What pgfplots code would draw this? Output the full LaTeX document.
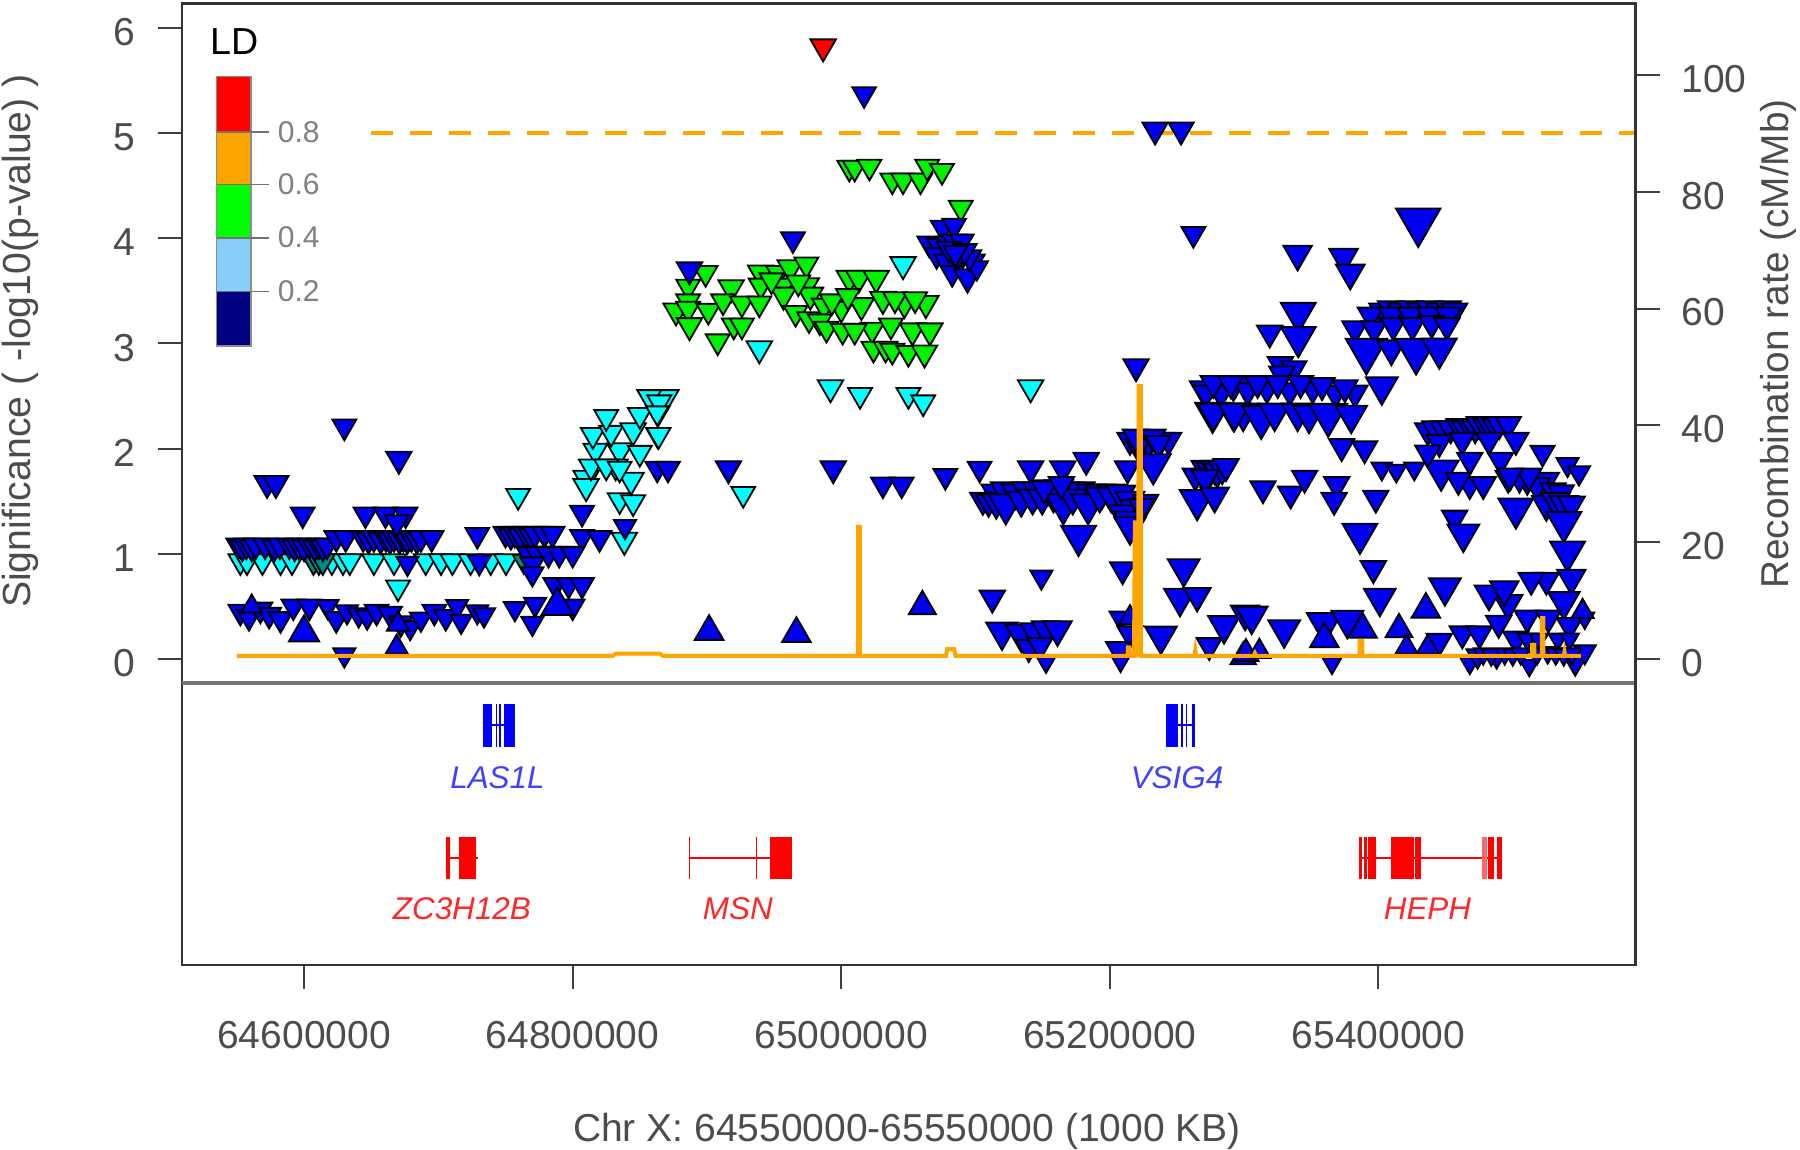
\documentclass[border=0pt]{standalone}
\usepackage{fontspec}
\setmainfont{Liberation Sans}
\usepackage{pgfplots}
\usepackage{pgfplotstable}
\pgfplotsset{compat=1.18}
\definecolor{tcol}{gray}{0.3}
\definecolor{bblue}{HTML}{0000F0}
\definecolor{dblue}{HTML}{000080}
\definecolor{cyn}{HTML}{00FFFF}
\definecolor{teal2}{HTML}{008B8B}
\definecolor{grn}{HTML}{00F000}
\definecolor{org}{HTML}{FFA500}
\definecolor{skyb}{HTML}{87CEFA}
\pgfdeclareplotmark{dtri}{%
  \pgfpathmoveto{\pgfqpoint{0pt}{-\pgfplotmarksize}}%
  \pgfpathlineto{\pgfqpointpolar{30}{\pgfplotmarksize}}%
  \pgfpathlineto{\pgfqpointpolar{150}{\pgfplotmarksize}}%
  \pgfpathclose\pgfusepathqfillstroke}
\pgfplotsset{
  mk/.style 2 args={scatter, only marks, mark=#2,
    visualization depends on={0.92*\thisrow{s}\as\ms},
    scatter/@pre marker code/.code={\scope[mark size=\ms, draw=black, fill=#1, line width=0.9pt]},
    scatter/@post marker code/.code={\endscope},
    forget plot},
  dn/.style={mk={#1}{dtri}},
  up/.style={mk={#1}{triangle*}},
}
\newcommand\exon[5]{\addplot[fill=#1,draw=none,forget plot] coordinates {(#2,#4)(#3,#4)(#3,#5)(#2,#5)} -- cycle;}
\pgfplotstableread[row sep=\\]{x y s\\
64552.6 .93 7.5\\64557.5 .93 7.5\\64569 .93 7.5\\64582.5 .93 7.5\\64591 .93 7.5\\64620.7 .93 7.5\\64629 .93 7.5\\64634 .93 7.5\\
64652 .93 7.5\\64667 .93 7.5\\64690.6 .93 7.5\\64702 .93 7.5\\64710.5 .93 7.5\\64724 .93 7.5\\64739 .93 7.5\\64750.4 .93 7.5\\
64670 .68 7.5\\64759.4 1.55 7.5\\
64810 1.72 8\\64810 1.64 8\\64835 1.51 7.5\\64845 1.49 7.5\\64838.5 1.13 8\\64843.5 1.70 8\\64817 1.98 7.5\\64835 1.98 8\\64850 1.96 7.5\\
64815 2.13 7.5\\64828.6 2.15 7.5\\64845 2.17 8\\64825 2.30 7.5\\64850 2.32 7.5\\64863.5 2.34 7.5\\64863.5 2.13 7.5\\64870 2.49 7.5\\64857 2.49 7.5\\
64832 1.83 7.5\\64813.6 1.83 7.5\\64825 1.83 7.5\\64835 1.81 7.5\\
64939 2.95 8\\64992 2.58 8\\65014 2.51 7.5\\65050 2.51 7.5\\65061 2.44 7.5\\65046 3.75 8\\65141 2.58 8\\64927 1.57 7.5\\64864.5 2.44 7.5\\64863 2.34 7\\64864 2.13 7.5\\
}\tcyan
\pgfplotstableread[row sep=\\]{x y s\\
64607 .93 7.5\\64611 .93 7.5\\64614 .93 7.5\\64763.7 .93 7\\
}\tteal
\pgfplotstableread[row sep=\\]{x y s\\
64899 3.67 7.5\\64886 3.54 7.5\\64918 3.53 8\\64940 3.67 8\\64953 3.67 7.5\\64962 3.72 8\\64974 3.75 7.5\\64940 3.55 7.5\\64957 3.55 7.5\\64974 3.55 8\\
64886 3.40 7.5\\64877 3.31 8\\64886 3.33 7.5\\64901 3.31 7.5\\64912 3.40 7.5\\64926 3.38 7.5\\64939 3.38 7.5\\64957 3.46 8\\64977 3.46 8\\64966 3.29 7.5\\64976 3.23 7.5\\
64987 3.36 7.5\\65000 3.33 7.5\\65015 3.36 8\\64984 3.21 7.5\\64989 3.14 7.5\\64887 3.17 8\\64920 3.17 7.5\\64926 3.17 7.5\\64908 3.02 7.5\\
65006 3.62 8\\65013 3.62 8\\65026 3.62 8\\65031 3.42 8\\65047 3.38 8\\65063 3.38 8\\65023 3.13 7.5\\65001 3.12 7.5\\65010 3.12 7.5\\65037 3.17 7.5\\65053 3.12 8\\65066 3.12 8\\
65024 2.95 7.5\\65033 2.95 7.5\\65038 2.93 7.5\\65050 2.91 7.5\\65062 2.91 8\\
64993 3.40 7.5\\65005 3.45 7.5\\65040 3.42 7.5\\65055 3.42 7.5\\64948 3.60 7.5\\64968 3.58 7.5\\
65006 4.67 7.5\\65010 4.67 7.5\\65021 4.68 7.5\\65038 4.55 7.5\\65046 4.55 7.5\\65059 4.55 7.5\\65064 4.68 7.5\\65075 4.64 7.5\\65089 4.29 7.5\\
}\tgreen
\pgfplotstableread[row sep=\\]{x y s\\
64551 1.08 7.5\\64554 1.06 7.5\\64557 1.08 7.5\\64561 1.06 7.5\\64564 1.08 7.5\\64571 1.08 7.5\\64578 1.06 7.5\\64582 1.08 7.5\\64589 1.08 7.5\\64593 1.06 7.5\\64596 1.08 7.5\\64600 1.06 7.5\\64604 1.08 7.5\\64608 1.06 7.5\\64611 1.08 7.5\\64614 1.06 7.5\\64617 1.08 7.5\\
64624 1.15 7.5\\64631 1.15 7.5\\64644 1.15 7.5\\64648 1.13 7.5\\64652 1.15 7.5\\64657 1.13 7.5\\64661 1.15 7.5\\64664 1.13 7.5\\64667 1.15 7.5\\64671 1.13 7.5\\64674 1.15 7.5\\64677 1.13 7.5\\64680 1.15 7.5\\64684 1.13 7.5\\64687 1.15 7.5\\64695 1.15 7.5\\
64572.5 1.67 8\\64579 1.67 8\\64630 2.21 7.5\\64670.6 1.90 8\\64599 1.375 7.5\\64645.7 1.375 7.5\\64660.6 1.375 7.5\\64675.6 1.375 7.5\\64669 1.30 7.5\\
64729 1.18 7.5\\64750 1.19 7.5\\64754 1.17 7.5\\64757 1.19 7.5\\64761 1.17 7.5\\64765 1.19 7.5\\64769 1.17 7.5\\64772 1.19 7.5\\64779 1.19 7.5\\64785 1.19 7.5\\64807 1.39 7.5\\64807 1.16 7.5\\64820 1.15 7.5\\64839 1.26 7\\
64767 1.0 7.5\\64774 1.0 7.5\\64782 1.0 7.5\\64790 1.0 7.5\\64800 1.0 7.5\\64730.5 .925 7.5\\64770 .90 7.5\\64677 .91 7\\64770 .81 7\\64787 .705 7.5\\64797 .705 7.5\\64807 .705 7.5\\64800 .50 7.5\\
64552.6 .45 7.5\\64559 .40 7.5\\64567.5 .47 7.5\\64574 .42 7.5\\64582.5 .38 7.5\\64592 .50 7.5\\64604 .50 7.5\\64617.5 .50 7\\64624 .38 7.5\\64632 .45 7\\64640.7 .42 7\\64647 .40 7\\64654 .45 7.5\\
64664 .43 7.5\\64672 .34 7.5\\64679 .30 7\\64687 .38 7\\64697 .45 7.5\\64705.5 .40 7.5\\64714 .50 7\\64717 .36 7\\64729 .45 7\\64734 .42 7\\64757 .48 7\\64772 .52 7\\64770 .34 7\\64630 .04 7\\
64887 3.70 8\\64964 3.99 7.5\\65017 5.37 7.5\\
64916 1.81 8\\64994 1.81 8\\65031 1.66 7.5\\65045 1.66 7.5\\65077.5 1.74 7.5\\65103 1.81 7.5\\65141 1.81 8\\65165 1.81 8\\65182.4 1.89 8\\64863 1.81 7.5\\64871 1.81 7.5\\
65075.5 4.10 7.5\\65084 4.12 7.5\\65065.5 3.95 7.5\\65072.6 3.93 7.5\\65079.8 3.95 7.5\\65084 3.97 7.5\\65089.7 3.97 7.5\\65071 3.84 7.5\\65078 3.78 7.5\\65087 3.80 7.5\\65098 3.78 7.5\\65082.6 3.67 7.5\\65094 3.63 8.5\\65101 3.72 7\\65087 3.84 7.5\\65095.4 3.82 7.5\\65080 3.90 7.5\\65092 3.88 7.5\\65085 3.86 7.5\\
65115 1.58 9\\65122 1.60 9\\65130 1.58 9\\65138 1.60 9\\65146 1.60 9\\65154 1.62 9\\65162 1.62 9\\65170 1.60 9\\65178 1.60 9\\65186 1.58 9\\65194 1.58 9\\65202 1.58 9\\65208 1.56 9\\
65105.4 1.51 8\\65109.7 1.49 8\\65115.4 1.49 9\\65122.5 1.47 11\\65134 1.51 9\\65142.5 1.53 9\\65149.6 1.53 9\\65158 1.55 9\\65165.3 1.47 11\\65172.4 1.53 9\\65183.8 1.47 11\\65192.4 1.55 9\\65201 1.55 9\\65208 1.57 9\\65215 1.51 9\\65218 1.43 9\\65226.6 1.49 8\\65209.5 1.38 9\\65213.8 1.32 9\\65215 1.26 10\\65223.7 1.45 8\\65151 1.62 8\\65163.9 1.66 8\\65176.7 1.17 11\\
65213.2 1.81 8\\65215 2.08 8\\65222 2.10 8\\65226.6 2.08 8.5\\65229 2.06 8\\65238 2.08 8\\65243.7 2.08 8\\65220.9 2.02 8\\65219 2.11 8\\65232 2.11 8\\65236 2.05 8\\65232.3 1.85 11\\65219.5 2.78 8\\65262.2 4.04 7.5\\65233.7 5.03 8\\65253 5.03 8\\
65270.8 1.81 8.5\\65275 1.79 8.5\\65263.6 1.74 8\\65277.9 1.81 8.5\\65280 1.78 8.5\\65283.6 1.81 8.5\\65270.8 1.72 8.5\\65286.5 1.83 8\\65265 1.51 11\\65278 1.55 9\\
65209.5 .85 8\\65149 .78 7\\65112.5 .58 8\\65255 .86 10\\65252.2 .58 10\\65265 .60 8.5\\65285 .32 10\\65300.7 .43 9\\65238 .22 10\\65273.6 .13 7\\65208 .39 7\\65215 .24 8\\65206.6 .09 8\\65208 -.02 6\\
65119.7 .26 10\\65134 .24 10\\65144 .26 9\\65152.5 .28 9\\65161 .28 9\\65139.6 .11 8\\65148 .13 8\\65152.5 -.02 6.5\\
65429.6 4.16 14\\65339.8 3.85 9\\65374 3.82 9\\65379 3.67 9\\65340.3 3.29 11\\65340.3 3.06 11\\65319 3.10 8\\
65402.5 3.31 8\\65409 3.33 8\\65416.8 3.31 8\\65424 3.33 8\\65431 3.31 8\\65438 3.33 8\\65445 3.31 8\\65452 3.33 8\\65456.7 3.31 8\\65394 3.27 8\\65409.6 3.27 8\\65424 3.27 8\\65438 3.27 8\\65452 3.27 8\\
65382.5 3.14 8\\65396.8 3.14 8\\65411 3.17 8\\65425.3 3.17 8\\65439.6 3.19 8\\65451 3.17 8\\
65391 2.93 13\\65409.6 2.95 9\\65428 2.93 13\\65445.3 2.95 11\\65402.5 2.59 10\\
65327 2.80 8\\65337 2.76 8\\65328 2.71 8\\
65269 2.57 8\\65280.8 2.57 8\\65292 2.59 8\\65300.7 2.61 8\\65271.4 2.53 8\\65282.8 2.53 8\\65302.7 2.55 8\\65317 2.57 8\\65334 2.55 8\\65351 2.57 8\\65368 2.53 8\\65382.5 2.53 8\\
65277 2.62 8\\65290 2.62 8\\65310 2.62 8\\65325 2.62 8\\65342 2.62 8\\65358 2.60 8\\65375 2.58 8\\
65276.5 2.34 11\\65292 2.34 10\\65299.3 2.34 10\\65277 2.34 10\\65292.7 2.34 10\\65312.7 2.30 12\\65322.7 2.34 10\\65339.8 2.34 10\\65348.3 2.32 10\\65362.6 2.32 12\\65379.7 2.32 10\\
65372.6 2.02 8\\65389.7 2.0 8\\65402.5 1.81 6.5\\65413.3 1.79 6.5\\65426.7 1.81 6.5\\65446.7 1.79 11\\65468 1.66 8\\65478 1.66 8\\65459.5 1.70 8\\65496.6 1.72 8\\65314 1.62 8\\65334.6 1.57 8\\65345 1.72 8\\65368.9 1.66 8\\65367 1.51 8\\65398 1.53 8\\
65386.2 1.19 11\\65396.2 .86 8\\65401 .58 10\\65456.7 1.34 8\\65463.2 1.19 10\\65449.5 .68 10\\65305.6 .41 10\\65329.8 .28 10\\65359.7 .34 11\\65376.8 .37 10\\65365.4 -.04 6\\65445.3 .17 8\\65462.4 .24 8\\65475.2 .24 8\\65274 .13 8\\
65436.7 2.17 8\\65442 2.19 8\\65448 2.19 8\\65453.8 2.19 8\\65460 2.21 8\\65464 2.19 8\\65468 2.21 8\\65472 2.19 8\\65475 2.23 8\\65480 2.21 8\\65482.3 2.23 8\\65487 2.21 8\\65490 2.23 8\\65496.6 2.23 8\\
65445.3 2.06 8\\65462.4 2.08 8\\65482.3 2.08 8\\65502.3 2.08 8\\65522.2 1.96 7.5\\65540.8 1.85 7\\65549.3 1.77 7\\65436.7 1.96 8\\65468 1.89 8\\65490.9 1.89 8\\65510.8 1.70 8\\65525 1.70 8\\65505 1.72 8\\65518 1.65 8\\65512 1.74 8\\65498 1.74 8\\65530 1.60 8\\65536 1.58 8\\
65502.3 1.43 11\\65525 1.47 9\\65532 1.50 9\\65538 1.47 9\\65543.6 1.47 8.5\\65538 1.30 11\\65540.8 1.02 11\\65543.6 .77 9\\65538 .55 10\\65525 .75 8\\65513.7 .75 8\\65496.6 .53 9\\65482.3 .62 9\\65493.7 .66 9\\
65489.5 .34 8\\65510.8 .39 8\\65502.3 .19 8\\65526.5 .39 8\\65542.2 .32 8\\65553.6 .39 6\\65468 -.04 6\\65512.3 -.06 6\\65546.5 -.02 8\\65553.6 .07 7\\65510.8 .19 6\\65519.4 .19 6\\65533.6 .19 6\\65542.2 .19 6\\65488 .03 7\\65473.8 .03 7\\
65478 .05 6\\65484 .04 6\\65494 .05 6\\65500 .04 6\\65506 .05 6\\65518 .05 6\\65526 .06 6\\65532 .05 6\\65538 .04 6\\65544 .05 6\\
}\tblue
\pgfplotstableread[row sep=\\]{x y s\\
64561 .50 6.5\\64600 .25 9.5\\64669 .11 7\\64670 .33 7\\64788.6 .505 10\\
64901.6 .26 9\\64966.6 .24 9\\65060.4 .50 8.5\\65215 .39 7\\65299.3 .02 8\\
65388.2 .28 9\\65415.3 .28 8.5\\65435.3 .47 9\\65421 .11 7\\65436.7 .11 7\\65301.3 .05 8\\65311.3 .07 7\\65359.7 .19 9\\65552 .45 7\\
}\tblueup
\begin{document}
\begin{tikzpicture}
\useasboundingbox (0,0) rectangle (900pt,575pt);
\begin{axis}[
  at={(90.85pt,92.5pt)}, anchor=south west, scale only axis,
  width=726.9pt, height=480.75pt,
  xmin=64508.9, xmax=65591.4, ymin=-2.909, ymax=6.231,
  scaled x ticks=false,
  xtick={64600,64800,65000,65200,65400},
  xticklabels={64600000,64800000,65000000,65200000,65400000},
  ytick={0,1,2,3,4,5,6},
  tick align=outside, xtick pos=bottom, ytick pos=left,
  major tick length=12pt,
  tick style={line width=1pt, color=black!75},
  axis line style={line width=1.2pt, color=black!80},
  /pgf/number format/assume math mode=true,
  every tick label/.append style={font=\fontsize{19.5}{23}\selectfont, text=tcol},
  xticklabel style={yshift=-12.6pt},
  yticklabel style={xshift=-7.7pt, yshift=-2.2pt},
]
% divider
\addplot[line width=2pt, color=black!55, forget plot] coordinates {(64508.9,-.233)(65591.4,-.233)};
% legend bar
\exon{red}{64535}{64560.5}{5.012}{5.534}
\exon{org}{64535}{64560.5}{4.511}{5.012}
\exon{green}{64535}{64560.5}{4.002}{4.511}
\exon{skyb}{64535}{64560.5}{3.493}{4.002}
\exon{dblue}{64535}{64560.5}{2.975}{3.493}
\addplot[line width=.6pt, color=black!45, forget plot] coordinates {(64535,2.975)(64560.5,2.975)(64560.5,5.534)(64535,5.534)} -- cycle;
\addplot[line width=.9pt, color=black!55, forget plot] coordinates {(64535,5.012)(64574,5.012)};
\addplot[line width=.9pt, color=black!55, forget plot] coordinates {(64535,4.511)(64574,4.511)};
\addplot[line width=.9pt, color=black!55, forget plot] coordinates {(64535,4.002)(64574,4.002)};
\addplot[line width=.9pt, color=black!55, forget plot] coordinates {(64535,3.493)(64574,3.493)};
\node[font=\fontsize{18.8}{22}\selectfont, text=black] at (axis cs:64548,5.87) {LD};
\node[font=\fontsize{15}{18}\selectfont, text=black!50] at (axis cs:64596,5.01) {0.8};
\node[font=\fontsize{15}{18}\selectfont, text=black!50] at (axis cs:64596,4.515) {0.6};
\node[font=\fontsize{15}{18}\selectfont, text=black!50] at (axis cs:64596,4.01) {0.4};
\node[font=\fontsize{15}{18}\selectfont, text=black!50] at (axis cs:64596,3.50) {0.2};
% markers
\addplot[dn=cyn] table[x=x,y=y] {\tcyan};
\addplot[dn=teal2] table[x=x,y=y] {\tteal};
\addplot[dn=grn] table[x=x,y=y] {\tgreen};
\addplot[dn=bblue] table[x=x,y=y] {\tblue};
\addplot[up=bblue] table[x=x,y=y] {\tblueup};
\addplot[dn=red] table[x=x,y=y] {
x y s
64986.5 5.82 8
};
% significance line
\addplot[line width=2pt, color=org, dash pattern=on 11pt off 8.5pt, forget plot] coordinates {(64650,5)(65591.4,5)};
% genes
\addplot[line width=.8pt, color=blue, forget plot] coordinates {(64733.4,-.63)(64757,-.63)};
\exon{blue}{64733.4}{64740.2}{-.428}{-.834}
\exon{blue}{64742.8}{64743.6}{-.428}{-.834}
\exon{blue}{64744.8}{64746.3}{-.428}{-.834}
\exon{blue}{64748.6}{64757}{-.428}{-.834}
\addplot[line width=.8pt, color=blue, forget plot] coordinates {(65242,-.63)(65263.2,-.63)};
\exon{blue}{65242}{65250.7}{-.428}{-.834}
\exon{blue}{65252.6}{65254.5}{-.428}{-.834}
\exon{blue}{65256.4}{65257.5}{-.428}{-.834}
\exon{blue}{65261}{65263.2}{-.428}{-.834}
\addplot[line width=.8pt, color=red, forget plot] coordinates {(64707.6,-1.89)(64729.6,-1.89)};
\exon{red}{64706}{64709}{-1.689}{-2.09}
\exon{red}{64715.5}{64728}{-1.689}{-2.09}
\addplot[line width=.8pt, color=red, forget plot] coordinates {(64887,-1.89)(64963,-1.89)};
\exon{red}{64886.6}{64887.6}{-1.689}{-2.09}
\exon{red}{64936.3}{64937.3}{-1.689}{-2.09}
\exon{red}{64947}{64963}{-1.689}{-2.09}
\addplot[line width=.8pt, color=red, forget plot] coordinates {(65385.6,-1.89)(65492,-1.89)};
\exon{red}{65385.6}{65387.5}{-1.689}{-2.09}
\exon{red}{65389.4}{65391.7}{-1.689}{-2.09}
\exon{red}{65392.4}{65397.8}{-1.689}{-2.09}
\exon{red}{65409}{65426.6}{-1.689}{-2.09}
\exon{red}{65427.4}{65432}{-1.689}{-2.09}
\exon{red!60}{65476.8}{65480.6}{-1.689}{-2.09}
\exon{red}{65481.7}{65486.3}{-1.689}{-2.09}
\exon{red}{65488.2}{65492}{-1.689}{-2.09}
\node[font=\fontsize{15.7}{19}\selectfont\itshape, text=blue!75] at (axis cs:64744,-1.13) {LAS1L};
\node[font=\fontsize{15.7}{19}\selectfont\itshape, text=blue!75] at (axis cs:65250,-1.13) {VSIG4};
\node[font=\fontsize{15.7}{19}\selectfont\itshape, text=red!85] at (axis cs:64717.5,-2.37) {ZC3H12B};
\node[font=\fontsize{15.7}{19}\selectfont\itshape, text=red!85] at (axis cs:64923,-2.37) {MSN};
\node[font=\fontsize{15.7}{19}\selectfont\itshape, text=red!85] at (axis cs:65436.5,-2.37) {HEPH};
\end{axis}
\begin{axis}[
  at={(90.85pt,92.5pt)}, anchor=south west, scale only axis,
  width=726.9pt, height=480.75pt,
  xmin=64508.9, xmax=65591.4, ymin=-52.4, ymax=112.24,
  axis x line=none, axis y line=right,
  y axis line style={-, line width=1.2pt, color=black!80},
  ytick={0,20,40,60,80,100},
  tick align=outside, major tick length=12pt,
  tick style={line width=1pt, color=black!75},
  /pgf/number format/assume math mode=true,
  every tick label/.append style={font=\fontsize{19.5}{23}\selectfont, text=tcol},
  yticklabel style={anchor=west, xshift=7.5pt, yshift=-2pt},
]
\addplot[line width=2pt, color=org, line join=miter, forget plot] coordinates {
(64550,.55)(64830,.55)(64832,.9)(64865,.9)(64867,.55)(65012.6,.55)(65012.6,22.6)(65013.9,22.6)(65013.9,.55)
(65078,.55)(65079,1.7)(65084,1.7)(65085,.55)(65213,.55)(65213.5,2)(65214.5,2)(65215,.55)(65218,.55)
(65218.6,23.4)(65220,23.4)(65220,.6)(65221,.6)(65221.5,46.7)(65223,46.7)(65223,.6)(65224,.6)(65224,.55)
(65263,.55)(65263.6,1.5)(65264.2,.55)(65307,.55)(65308,1)(65309,.55)(65386,.55)(65386,3.1)(65388,3.1)(65388,.55)
(65514.5,.55)(65514.5,2.4)(65516,2.4)(65516,.55)(65521.6,.55)(65521.6,7)(65522.8,7)(65522.8,.55)(65538,.55)(65538.5,1.2)(65539,.55)(65550.7,.55)};
\end{axis}
\node[rotate=90, font=\fontsize{19.6}{23}\selectfont, text=tcol] at (10pt,404.5pt) {Significance ( -log10(p-value) )};
\node[rotate=90, font=\fontsize{19.4}{23}\selectfont, text=tcol] at (889pt,403pt) {Recombination rate (cM/Mb)};
\node[font=\fontsize{19.5}{23}\selectfont, text=tcol] at (453.5pt,9.5pt) {Chr X: 64550000-65550000 (1000 KB)};
\end{tikzpicture}
\end{document}
